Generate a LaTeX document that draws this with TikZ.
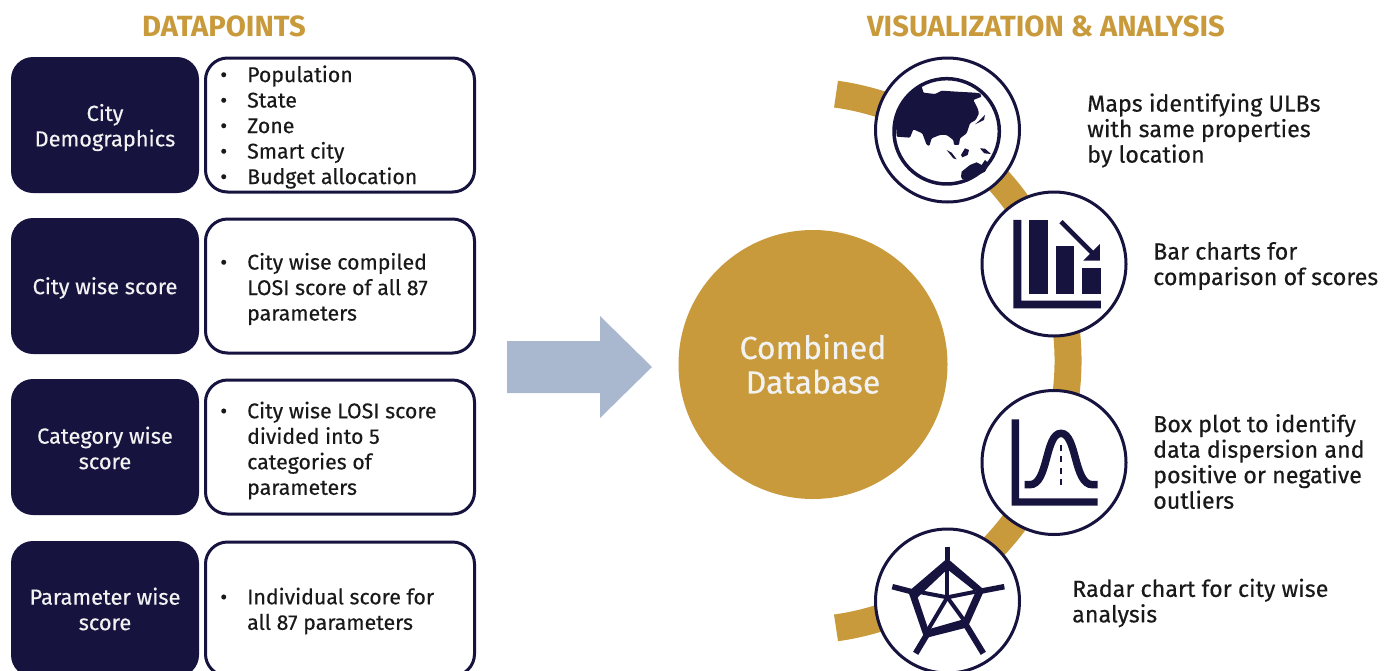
\documentclass[tikz,border=0pt]{standalone}
\usepackage{fontspec}
\setmainfont{Fira Sans}
\newfontfamily\medfont[FakeBold=0.35]{Fira Sans}
\definecolor{navyc}{HTML}{16133F}
\definecolor{goldc}{HTML}{C99A3B}
\definecolor{arrowc}{HTML}{A9B8CF}
\newcommand{\bul}{\llap{\textbullet\hspace{20pt}}}
\tikzset{
  darkbox/.style={fill=navyc,rounded corners=22pt,minimum width=188pt,minimum height=136pt,inner sep=0pt},
  darktext/.style={inner sep=0pt,text=white!95!black,align=center,font=\medfont\fontsize{21.8}{25.5}\selectfont},
  whitebox/.style={draw=navyc,fill=white,line width=3pt,rounded corners=22pt,minimum width=269pt,minimum height=134pt,inner sep=0pt},
  listtext/.style={anchor=west,align=left,inner sep=0pt,text=black!90,font=\medfont\fontsize{21.3}{25.5}\selectfont},
  captiontext/.style={listtext,font=\medfont\fontsize{23.3}{25.5}\selectfont},
  headtext/.style={inner sep=0pt,text=goldc,font=\fontsize{29.2}{32}\selectfont\bfseries},
  iconring/.style={draw=navyc,fill=white,line width=3pt,circle,minimum size=144pt,inner sep=0pt},
  iconfill/.style={fill=navyc},
}
\begin{document}
\begin{tikzpicture}[x=1pt,y=-1pt]
\useasboundingbox (0,0) rectangle (1398,670);
\clip (0,0) rectangle (1398,670);
\fill[white] (0,0) rectangle (1398,670);
% headings
\node[headtext] (headleft) at (224,26) {DATAPOINTS};
\node[headtext] (headright) at (1046,26) {VISUALIZATION \& ANALYSIS};
% left column
\node[darkbox] (dark1) at (105,125) {};
\node[darkbox] (dark2) at (105,286) {};
\node[darkbox] (dark3) at (105,447) {};
\node[darkbox] (dark4) at (105,609) {};
\node[darktext] (label1) at (105,127.5) {City\\Demographics};
\node[darktext] (label2) at (105,288) {City wise score};
\node[darktext] (label3) at (105,448) {Category wise\\score};
\node[darktext] (label4) at (105,609) {Parameter wise\\score};
\node[whitebox] (white1) at (340,125) {};
\node[whitebox] (white2) at (340,286) {};
\node[whitebox] (white3) at (340,447) {};
\node[whitebox] (white4) at (340,609) {};
\node[listtext] (list1) at (247,127) {\bul Population\\\bul State\\\bul Zone\\\bul Smart city\\\bul Budget allocation};
\node[listtext] (list2) at (247,289) {\bul City wise compiled\\LOSI score of all 87\\parameters};
\node[listtext] (list3) at (247,450.5) {\bul City wise LOSI score\\divided into 5\\categories of\\parameters};
\node[listtext] (list4) at (247,611) {\bul Individual score for\\all 87 parameters};
% block arrow
\fill[arrowc] (507,341) -- (600,341) -- (600,316) -- (652,367) -- (600,418) -- (600,393) -- (507,393) -- cycle;
% centre
\node[circle,fill=goldc,minimum size=269pt,inner sep=0pt,text=white!95!black,align=center,
  font=\medfont\fontsize{32}{34.5}\selectfont] (database) at (813,364.5) {\raisebox{1.5pt}{Combined}\\\raisebox{1.5pt}{Database}};
% band behind the icons
\draw[goldc,line width=27pt] (798.5,361)+(-82:269.5) arc[start angle=-82,end angle=82,radius=269.5];
\node[iconring] (globe) at (947.5,130) {};
\node[iconring] (bars) at (1054,264) {};
\node[iconring] (bell) at (1054,462.5) {};
\node[iconring] (radar) at (947.5,601) {};
% globe
\begin{scope}[shift={(885,70)},x=0.3333pt,y=-0.3333pt]
  \draw[navyc,line width=3.5pt] (185,184) circle (158);
  \fill[iconfill,rounded corners=1pt] (35,200) -- (75,203) -- (85,178) -- (112,190) -- (125,225) -- (133,228) -- (140,205) -- (165,195)
    -- (185,195) -- (205,210) -- (207,225) -- (222,225) -- (225,205) -- (245,190) -- (255,160) -- (272,150) -- (282,130)
    -- (278,115) -- (265,90) -- (290,80) -- (285,70) -- (270,68) -- (215,65) -- (170,62) -- (150,72) -- (115,68)
    -- (112,55) -- (105,42) -- (60,85) -- (32,150) -- cycle;
  \fill[iconfill] (300,135) -- (297,150) -- (270,163) -- (285,150) -- cycle;
  \fill[iconfill] (185,240) -- (200,248) -- (215,268) -- (205,265) -- cycle;
  \fill[iconfill] (228,255) -- (240,235) -- (252,240) -- (248,255) -- (232,262) -- cycle;
  \fill[iconfill] (285,235) -- (300,236) -- (318,252) -- (298,250) -- cycle;
  \fill[iconfill] (228,320) -- (230,305) -- (255,285) -- (275,277) -- (290,285) -- (300,270) -- (310,280) -- (322,265)
    -- (300,305) -- (260,325) -- (232,328) -- cycle;
\end{scope}
% bar chart
\begin{scope}[shift={(860,50)},x=0.3333pt,y=-0.3333pt]
  \fill[iconfill] (460,510) -- (484,510) -- (484,752) -- (723,752) -- (723,775) -- (460,775) -- cycle;
  \fill[iconfill] (507,510) rectangle (563,732);
  \fill[iconfill] (587,587) rectangle (643,732);
  \fill[iconfill] (666,655) rectangle (723,732);
  \draw[navyc,line width=4.5pt] (603,515) -- (700,612);
  \fill[iconfill] (720,582) -- (720,632) -- (670,632) -- cycle;
\end{scope}
% bell curve
\begin{scope}[shift={(1000,410)},x=0.3333pt,y=-0.3333pt]
  \fill[iconfill] (35,28) -- (57,28) -- (57,265) -- (293,265) -- (293,287) -- (35,287) -- cycle;
  \draw[navyc,line width=7.5pt] (74,224) -- (90,224) .. controls (145,224) and (135,70) .. (183,70)
    .. controls (231,70) and (221,224) .. (277,224) -- (293,224);
  \draw[navyc,line width=2.6pt,dash pattern=on 5.7pt off 5.7pt] (183,105) -- (183,226);
\end{scope}
% radar
\begin{scope}[shift={(885,540)},x=0.3333pt,y=-0.3333pt]
  \fill[iconfill,even odd rule] (187,55) -- (298,150) -- (248,262) -- (118,295) -- (70,155) -- cycle
    (187,88) -- (272,155) -- (235,238) -- (130,268) -- (98,172) -- cycle;
  \draw[navyc,line width=5.5pt] (187,20) -- (187,60);
  \draw[navyc,line width=5.5pt] (358,140) -- (290,153);
  \draw[navyc,line width=6pt] (295,340) -- (245,258);
  \draw[navyc,line width=6pt] (92,340) -- (125,285);
  \draw[navyc,line width=5.5pt] (22,140) -- (80,155);
  \draw[navyc,line width=4pt] (187,88) -- (187,172);
  \draw[navyc,line width=4pt] (272,155) -- (187,172);
  \draw[navyc,line width=4pt] (235,238) -- (187,172);
  \draw[navyc,line width=4pt] (130,268) -- (187,172);
  \draw[navyc,line width=4pt] (98,155) -- (187,172);
\end{scope}
% icon captions
\node[captiontext] (caption1) at (1087,130.5) {Maps identifying ULBs\\with same properties\\by location};
\node[captiontext] (caption2) at (1153,266) {Bar charts for\\comparison of scores};
\node[captiontext] (caption3) at (1153,461.5) {Box plot to identify\\data dispersion and\\positive or negative\\outliers};
\node[captiontext] (caption4) at (1072,603) {Radar chart for city wise\\analysis};
\end{tikzpicture}
\end{document}
